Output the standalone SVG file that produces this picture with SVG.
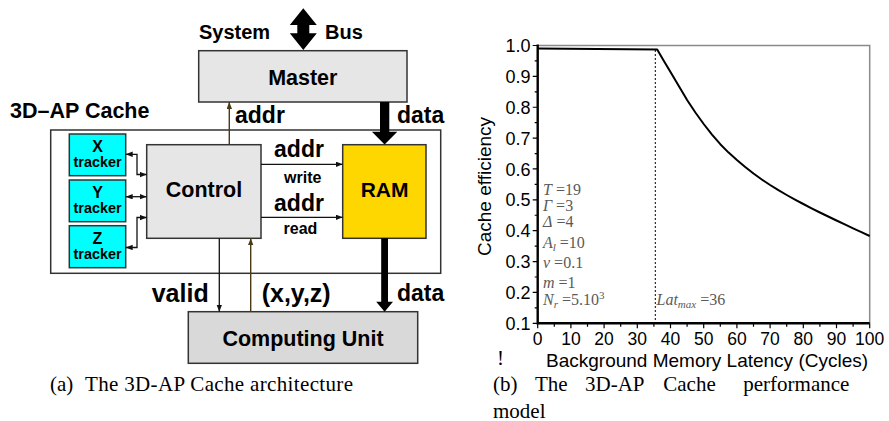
<svg xmlns="http://www.w3.org/2000/svg" width="889" height="421" viewBox="0 0 889 421">
  <style>
    .box { stroke: #333; stroke-width: 1.5; }
    .gray { fill: #e6e6e6; }
    .cu { fill: #d9d9d9; }
    .ram { fill: #ffd700; }
    .trk { fill: #00ffff; }
    .lbl { font-family: "Liberation Sans", Arial, sans-serif; font-weight: bold; fill: #000; }
    .wire { fill: none; stroke: #111; stroke-width: 1.3; }
    .olive { fill: none; stroke: #4a3b14; stroke-width: 1.4; }
    .cap { font-family: "Liberation Serif", "Times New Roman", serif; font-size: 21px; fill: #000; }
    .ax { font-family: "Liberation Sans", Arial, sans-serif; fill: #000; }
    .par { font-family: "Liberation Serif", "Times New Roman", serif; font-size: 16px; fill: #5a5a5a; }
    .it { font-style: italic; }
  </style>
  <defs>
    <marker id="ah" markerUnits="userSpaceOnUse" markerWidth="8" markerHeight="6" refX="7" refY="2.75" orient="auto-start-reverse">
      <path d="M0,0 L7,2.75 L0,5.5 z" fill="#111"/>
    </marker>
    <marker id="ahOlive" markerUnits="userSpaceOnUse" markerWidth="8" markerHeight="6" refX="7" refY="2.75" orient="auto">
      <path d="M0,0 L7,2.75 L0,5.5 z" fill="#4a3b14"/>
    </marker>
  </defs>

  <!-- (a) architecture -->
  <g id="system-bus">
    <polygon points="303.3,8.3 316.8,25 309.3,25 309.3,33.3 316.8,33.3 303.3,50 289.8,33.3 297.3,33.3 297.3,25 289.8,25" fill="#000"/>
    <text class="lbl" x="199" y="38.5" font-size="20">System</text>
    <text class="lbl" x="325" y="38.5" font-size="20">Bus</text>
  </g>

  <g id="master">
    <rect class="box gray" x="198.7" y="50.7" width="208.3" height="51.3"/>
    <text class="lbl" x="302.8" y="85" font-size="21.5" text-anchor="middle">Master</text>
  </g>

  <g id="cache">
    <rect x="50.7" y="130" width="390" height="143.3" fill="none" stroke="#333" stroke-width="1.5"/>
    <text class="lbl" x="10" y="117.5" font-size="21.5">3D–AP Cache</text>
  </g>

  <g id="x-tracker">
    <rect class="box trk" x="69.3" y="134" width="56.4" height="41.7"/>
    <text class="lbl" x="97.5" y="152" font-size="16" text-anchor="middle">X</text>
    <text class="lbl" x="97.5" y="166.7" font-size="14.4" text-anchor="middle">tracker</text>
  </g>
  <g id="y-tracker">
    <rect class="box trk" x="69.3" y="180" width="56.4" height="41.7"/>
    <text class="lbl" x="97.5" y="198" font-size="16" text-anchor="middle">Y</text>
    <text class="lbl" x="97.5" y="213" font-size="14.4" text-anchor="middle">tracker</text>
  </g>
  <g id="z-tracker">
    <rect class="box trk" x="69.3" y="225.7" width="56.4" height="42"/>
    <text class="lbl" x="97.5" y="243.6" font-size="16" text-anchor="middle">Z</text>
    <text class="lbl" x="97.5" y="258.5" font-size="14.4" text-anchor="middle">tracker</text>
  </g>

  <g id="control">
    <rect class="box gray" x="146.7" y="144.7" width="114.3" height="93.6"/>
    <text class="lbl" x="204" y="197" font-size="21.5" text-anchor="middle">Control</text>
  </g>

  <g id="ram">
    <rect class="box ram" x="342.7" y="144.7" width="83.3" height="93.6"/>
    <text class="lbl" x="384.6" y="197" font-size="21" text-anchor="middle">RAM</text>
  </g>

  <g id="computing-unit">
    <rect class="box cu" x="188.3" y="311.7" width="229.4" height="51.6"/>
    <text class="lbl" x="303" y="346" font-size="21.5" text-anchor="middle">Computing Unit</text>
  </g>

  <g id="connectors">
    <!-- tracker links -->
    <path class="wire" d="M125.7,154.3 H137 V174.5 H146.7" marker-start="url(#ah)" marker-end="url(#ah)"/>
    <path class="wire" d="M125.7,196.7 H146.7" marker-start="url(#ah)" marker-end="url(#ah)"/>
    <path class="wire" d="M146.7,217.5 H137 V247.5 H125.7" marker-start="url(#ah)" marker-end="url(#ah)"/>
    <!-- control to RAM -->
    <path class="wire" d="M261,164.3 H342.7" marker-end="url(#ah)"/>
    <path class="wire" d="M261,217.3 H342.7" marker-end="url(#ah)"/>
    <!-- control to master -->
    <path class="olive" d="M229.3,144.7 V102" marker-end="url(#ahOlive)"/>
    <!-- control / computing unit -->
    <path class="wire" d="M219.3,238.3 V311.7" marker-end="url(#ah)"/>
    <path class="olive" d="M250.7,311.7 V238.3" marker-end="url(#ahOlive)"/>
    <!-- data paths -->
    <polygon points="380,102 389.3,102 389.3,131.7 397.3,131.7 384.6,144.5 371.9,131.7 380,131.7" fill="#000"/>
    <polygon points="381.2,238.3 388,238.3 388,301.7 393,301.7 384.6,311.7 376.2,301.7 381.2,301.7" fill="#000"/>
    <!-- labels -->
    <text class="lbl" x="235" y="123" font-size="23">addr</text>
    <text class="lbl" x="397" y="123" font-size="23">data</text>
    <text class="lbl" x="299" y="157" font-size="23" text-anchor="middle">addr</text>
    <text class="lbl" x="302.7" y="182.5" font-size="16" text-anchor="middle">write</text>
    <text class="lbl" x="299" y="210.5" font-size="23" text-anchor="middle">addr</text>
    <text class="lbl" x="300.5" y="234" font-size="16" text-anchor="middle">read</text>
    <text class="lbl" x="151.7" y="302" font-size="25">valid</text>
    <text class="lbl" x="261.7" y="302" font-size="25">(x,y,z)</text>
    <text class="lbl" x="397" y="300.5" font-size="23">data</text>
  </g>

  <text class="cap" x="50" y="391">(a)</text>
  <text class="cap" x="85" y="391" textLength="268" lengthAdjust="spacing">The 3D-AP Cache architecture</text>

  <!-- (b) performance model chart -->
  <g id="chart">
    <!-- frame -->
    <path d="M537.7,45.5 H869.7 V323.3" fill="none" stroke="#8a8a8a" stroke-width="1.5"/>
    <path d="M537.7,44.5 V323.3 H869.7" fill="none" stroke="#000" stroke-width="2.4"/>
    <!-- y ticks -->
    <path stroke="#000" stroke-width="1.2" fill="none" d="M532.7,45.5h5 M532.7,76.37h5 M532.7,107.23h5 M532.7,138.1h5 M532.7,168.97h5 M532.7,199.83h5 M532.7,230.7h5 M532.7,261.57h5 M532.7,292.43h5 M532.7,323.3h5 M534.7,60.93h3 M534.7,91.8h3 M534.7,122.67h3 M534.7,153.53h3 M534.7,184.4h3 M534.7,215.27h3 M534.7,246.13h3 M534.7,277h3 M534.7,307.87h3"/>
    <!-- x ticks -->
    <path stroke="#000" stroke-width="1.2" fill="none" d="M537.7,323.3v5 M570.9,323.3v5 M604.1,323.3v5 M637.3,323.3v5 M670.5,323.3v5 M703.7,323.3v5 M736.9,323.3v5 M770.1,323.3v5 M803.3,323.3v5 M836.5,323.3v5 M869.7,323.3v5 M554.3,323.3v3.5 M587.5,323.3v3.5 M620.7,323.3v3.5 M653.9,323.3v3.5 M687.1,323.3v3.5 M720.3,323.3v3.5 M753.5,323.3v3.5 M786.7,323.3v3.5 M819.9,323.3v3.5 M853.1,323.3v3.5"/>
    <!-- y labels -->
    <g class="ax" font-size="18" text-anchor="end">
      <text x="530.5" y="52">1.0</text>
      <text x="530.5" y="82.9">0.9</text>
      <text x="530.5" y="113.7">0.8</text>
      <text x="530.5" y="144.6">0.7</text>
      <text x="530.5" y="175.5">0.6</text>
      <text x="530.5" y="206.3">0.5</text>
      <text x="530.5" y="237.2">0.4</text>
      <text x="530.5" y="268.1">0.3</text>
      <text x="530.5" y="298.9">0.2</text>
      <text x="530.5" y="329.8">0.1</text>
    </g>
    <!-- x labels -->
    <g class="ax" font-size="17.5" text-anchor="middle">
      <text x="537.7" y="345">0</text>
      <text x="570.9" y="345">10</text>
      <text x="604.1" y="345">20</text>
      <text x="637.3" y="345">30</text>
      <text x="670.5" y="345">40</text>
      <text x="703.7" y="345">50</text>
      <text x="736.9" y="345">60</text>
      <text x="770.1" y="345">70</text>
      <text x="803.3" y="345">80</text>
      <text x="836.5" y="345">90</text>
      <text x="869.7" y="345">100</text>
    </g>
    <text class="ax" x="546" y="366.5" font-size="19">Background Memory Latency (Cycles)</text>
    <text class="ax" font-size="19" text-anchor="middle" transform="translate(491,186.5) rotate(-90)">Cache efficiency</text>
    <!-- Lat_max marker -->
    <path d="M655.3,50 V323.3" stroke="#000" stroke-width="1" stroke-dasharray="2,2" fill="none"/>
    <!-- efficiency curve -->
    <polyline fill="none" stroke="#000" stroke-width="2" stroke-linejoin="round"
      points="537.7,48.4 657.2,49.6 663.9,61 670.5,72 678.8,86 687.1,100 695.4,112.5 703.7,124 712,134.6 720.3,144.2 728.6,152.6 736.9,160 745.2,167 753.5,173.5 761.8,179.5 770.1,185 778.4,190.2 786.7,195 795,199.6 803.3,204 811.6,208.3 819.9,212.5 828.2,216.5 836.5,220.5 844.8,224.4 853.1,228.3 861.4,232.2 869.7,236"/>
    <!-- parameters -->
    <g class="par">
      <text x="543" y="195"><tspan class="it">T</tspan> =19</text>
      <text x="543" y="210.5"><tspan class="it">Γ</tspan> =3</text>
      <text x="543" y="227"><tspan class="it">Δ</tspan> =4</text>
      <text x="543" y="248"><tspan class="it">A</tspan><tspan class="it" font-size="11" dy="3">l</tspan><tspan dy="-3"> =10</tspan></text>
      <text x="543" y="268"><tspan class="it">v</tspan> =0.1</text>
      <text x="543" y="288"><tspan class="it">m</tspan> =1</text>
      <text x="543" y="304.5"><tspan class="it">N</tspan><tspan class="it" font-size="11" dy="3">r</tspan><tspan dy="-3"> =5.10</tspan><tspan font-size="11" dy="-6">3</tspan></text>
      <text x="656.5" y="304.5"><tspan class="it">Lat</tspan><tspan class="it" font-size="11" dy="3">max</tspan><tspan dy="-3"> =36</tspan></text>
    </g>
  </g>

  <text class="cap" x="497" y="365">!</text>
  <g class="cap" font-size="20.5">
    <text x="493" y="391">(b)</text>
    <text x="535" y="391">The</text>
    <text x="585" y="391">3D-AP</text>
    <text x="663.3" y="391">Cache</text>
    <text x="743.3" y="391">performance</text>
    <text x="493" y="417.5">model</text>
  </g>
</svg>
